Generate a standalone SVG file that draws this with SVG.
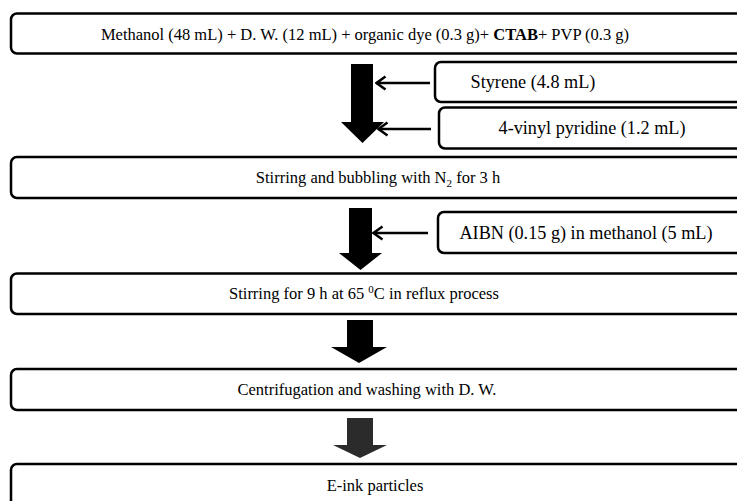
<svg xmlns="http://www.w3.org/2000/svg" width="737" height="501" viewBox="0 0 737 501">
<defs>
<style>
.box{fill:#fff;stroke:#000;stroke-width:2.5}
.t{font-family:"Liberation Serif","Times New Roman",serif;font-size:16.5px;fill:#000;text-anchor:middle}
.s{font-size:18.2px}
.feed{stroke:#000;stroke-width:2.5;fill:none}
.big{fill:#000}
</style>
<marker id="open" viewBox="0 0 12 16" refX="10.5" refY="8" markerWidth="12" markerHeight="16" markerUnits="userSpaceOnUse" orient="auto">
<path d="M1,1.5 L10,8 L1,14.5" fill="none" stroke="#000" stroke-width="2.5"/>
</marker>
</defs>
<rect width="737" height="501" fill="#fff"/>

<g id="n1">
<rect class="box" x="11" y="13.5" width="740" height="40" rx="6"/>
<text class="t" x="365" y="40" font-size="17.3">Methanol (48 mL) + D. W. (12 mL) + organic dye (0.3 g)+ <tspan font-weight="bold">CTAB</tspan>+ PVP (0.3 g)</text>
</g>
<g id="n_styrene">
<rect class="box" x="435" y="62" width="320" height="40" rx="6"/>
<text class="t s" x="533" y="88">Styrene (4.8 mL)</text>
</g>
<g id="n_vinyl">
<rect class="box" x="439" y="107.5" width="320" height="41" rx="6"/>
<text class="t s" x="592" y="134">4-vinyl pyridine (1.2 mL)</text>
</g>
<g id="n2">
<rect class="box" x="11" y="157" width="740" height="41" rx="6"/>
<text class="t" x="378" y="183">Stirring and bubbling with N<tspan font-size="11" dy="4">2</tspan><tspan dy="-4"> for 3 h</tspan></text>
</g>
<g id="n_aibn">
<rect class="box" x="438" y="212" width="320" height="41" rx="6"/>
<text class="t s" x="586" y="239">AIBN (0.15 g) in methanol (5 mL)</text>
</g>
<g id="n3">
<rect class="box" x="11" y="273.5" width="740" height="40.5" rx="6"/>
<text class="t" x="364" y="299">Stirring for 9 h at 65 <tspan font-size="11" dy="-6">0</tspan><tspan dy="6">C in reflux process</tspan></text>
</g>
<g id="n4">
<rect class="box" x="11" y="369" width="740" height="41" rx="6"/>
<text class="t" x="367" y="395" font-size="16">Centrifugation and washing with D. W.</text>
</g>
<g id="n5">
<rect class="box" x="11" y="464" width="740" height="60" rx="6"/>
<text class="t" x="375" y="491" font-size="16">E-ink particles</text>
</g>

<g id="connectors">
<polygon class="big" points="351,64 373,64 373,122 384,122 362.5,143 341,122 351,122"/>
<polygon class="big" points="349,208 372,208 372,253 382,253 360.5,270 339,253 349,253"/>
<polygon class="big" points="347,320 373,320 373,347 387,347 359,363 331,347 347,347"/>
<polygon points="347,418 373,418 373,445 387,445 360,458 333,445 347,445" fill="#2b2b2b"/>
<line class="feed" x1="430" y1="83" x2="376" y2="83" marker-end="url(#open)"/>
<line class="feed" x1="431" y1="129" x2="378" y2="129" marker-end="url(#open)"/>
<line class="feed" x1="428" y1="233" x2="373" y2="233" marker-end="url(#open)"/>
</g>
</svg>
